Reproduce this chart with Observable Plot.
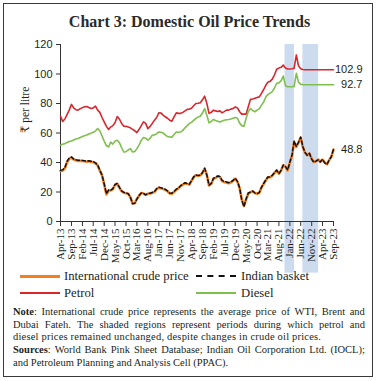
<!DOCTYPE html>
<html>
<head>
<meta charset="utf-8">
<script src="https://cdn.jsdelivr.net/npm/d3@7"></script>
<script src="https://cdn.jsdelivr.net/npm/@observablehq/plot@0.6"></script>
<style>
  html, body { margin: 0; padding: 0; background: #fff; }
  body { width: 379px; height: 381px; position: relative; overflow: hidden; font-family: "Liberation Serif", "DejaVu Serif", serif; color: #231f20; }
  #frame { position: absolute; left: 3px; top: 3px; width: 370px; height: 374px; box-sizing: border-box; border: 1px solid #3a3a3a; }
  #title { position: absolute; left: 0; top: 12px; width: 379px; text-align: center; font-family: "Liberation Serif", serif; font-size: 16px; line-height: 20px; font-weight: bold; color: #2a2a2a; }
  #chart { position: absolute; left: 0; top: 30px; }
  #note { position: absolute; left: 13px; top: 306px; width: 352px; font-family: "Liberation Serif", serif; font-size: 10.5px; line-height: 12.7px; }
  #note > div { white-space: nowrap; height: 12.7px; }
  #note > div.j { display: flex; justify-content: space-between; }
  #note > div.n0 { letter-spacing: 0.2px; }
</style>
</head>
<body>
<div id="frame"></div>
<div id="title">Chart 3: Domestic Oil Price Trends</div>
<div id="chart"></div>
<div id="legend"></div>
<div id="note"></div>
<script>
// Months: Apr-13 .. Sep-23 (126 months)
const firstMonth = "2013-04-01";
const lastMonth = "2023-09-01";

// International crude price (₹ per litre)
const crude = [
  34.2, 34.5, 36.0, 40.0, 42.5, 43.3, 42.0, 41.5, 41.0, 41.2, 41.0, 40.8,
  40.5, 40.8, 40.3, 40.3, 39.5, 38.0, 34.5, 31.3, 25.0, 18.4, 21.1, 21.0,
  22.0, 24.8, 25.6, 23.0, 20.5, 19.5, 19.2, 18.8, 16.5, 12.2, 12.5, 15.4,
  17.5, 19.3, 19.0, 18.0, 18.8, 19.0, 19.5, 20.0, 22.0, 22.9, 22.5, 22.0,
  21.5, 20.5, 19.0, 18.8, 20.0, 21.6, 22.5, 24.0, 25.0, 26.0, 25.5, 25.0,
  27.5, 30.0, 31.3, 31.0, 31.3, 33.0, 35.9, 31.5, 24.5, 25.5, 29.0, 29.5,
  30.6, 30.2, 27.5, 26.7, 26.5, 26.0, 26.5, 27.5, 29.0, 27.0, 22.5, 15.0,
  10.5, 15.0, 19.0, 19.8, 20.5, 19.3, 18.8, 19.5, 23.0, 25.6, 28.0, 30.0,
  30.1, 31.2, 33.0, 34.7, 32.4, 34.5, 38.1, 37.0, 34.7, 40.0, 44.9, 54.0,
  50.5, 53.5, 56.9, 50.5, 46.5, 44.9, 46.0, 42.5, 40.3, 41.0, 42.0, 40.5,
  42.0, 40.0, 38.8, 41.5, 43.7, 48.8
];

// Indian basket (₹ per litre)
const basket = [
  34.8, 35.0, 36.6, 40.8, 43.0, 43.8, 42.4, 41.8, 41.5, 41.6, 41.4, 41.2,
  40.9, 41.2, 40.8, 40.6, 39.8, 38.3, 34.8, 31.5, 25.6, 18.8, 21.4, 21.2,
  22.3, 25.1, 25.8, 23.2, 20.7, 19.7, 19.3, 18.9, 16.4, 12.0, 12.4, 15.2,
  17.6, 19.4, 19.2, 18.1, 18.9, 19.2, 19.7, 20.2, 22.3, 23.2, 22.8, 22.3,
  21.8, 20.7, 19.3, 19.2, 20.4, 21.9, 22.7, 24.3, 25.3, 26.3, 25.6, 25.2,
  27.7, 30.3, 31.5, 31.2, 31.4, 33.2, 36.1, 31.6, 24.6, 25.8, 29.3, 29.8,
  30.9, 30.6, 27.9, 27.1, 26.8, 26.3, 26.8, 27.8, 29.4, 27.3, 22.8, 14.6,
  10.1, 15.3, 19.3, 19.9, 20.6, 19.3, 18.9, 19.6, 23.2, 25.8, 28.3, 30.2,
  30.2, 31.3, 33.2, 34.8, 32.5, 34.7, 38.3, 37.2, 34.9, 40.3, 45.3, 54.6,
  50.9, 53.7, 57.2, 50.6, 46.8, 44.9, 46.2, 42.3, 40.1, 40.9, 41.8, 40.3,
  42.2, 39.8, 38.6, 41.6, 43.9, 49.0
];

// Petrol (₹ per litre)
const petrol = [
  71.5, 67.8, 69.5, 72.5, 75.5, 79.4, 77.0, 75.8, 75.5, 76.5, 77.2, 77.8,
  78.0, 77.3, 76.6, 77.0, 78.2, 75.5, 74.0, 70.5, 67.5, 64.5, 62.4, 64.0,
  65.0, 67.0, 71.2, 69.5, 66.5, 64.6, 64.5, 64.0, 63.5, 62.5, 61.5, 60.3,
  62.5, 65.0, 67.5, 66.5, 63.0, 64.5, 66.5, 68.7, 70.5, 73.7, 73.5, 72.1,
  71.0, 70.0, 68.7, 68.0, 71.0, 73.7, 73.3, 73.3, 74.0, 75.0, 76.0, 76.2,
  76.8, 78.5, 80.0, 80.2, 80.5, 82.5, 85.0, 80.0, 73.3, 74.0, 75.5, 75.0,
  74.5, 75.0, 73.7, 74.5, 75.5, 75.5, 76.2, 76.6, 77.7, 77.0, 74.4, 72.8,
  72.8, 72.8, 78.0, 82.8, 83.0, 83.5, 84.1, 84.5, 86.9, 89.5, 92.5, 94.5,
  95.0, 96.5, 99.5, 103.2, 104.0, 104.5, 106.1, 104.0, 103.4, 103.4, 103.6, 103.9,
  112.9, 105.5, 103.5, 103.0, 102.9, 102.9, 102.9, 102.9, 102.9, 102.9, 102.9, 102.9,
  102.9, 102.9, 102.9, 102.9, 102.9, 102.9
];

// Diesel (₹ per litre)
const diesel = [
  51.7, 52.4, 52.8, 53.5, 54.2, 54.6, 55.3, 55.9, 56.3, 57.0, 57.6, 58.1,
  58.6, 59.3, 59.9, 60.5, 61.3, 63.0, 61.5, 58.0, 54.5, 51.5, 50.5, 53.8,
  52.5, 54.5, 55.1, 53.5, 50.0, 47.1, 47.3, 48.5, 49.4, 47.1, 47.5, 49.4,
  52.0, 55.0, 56.9, 56.5, 55.1, 56.5, 58.5, 58.7, 59.5, 60.7, 60.5, 60.0,
  58.8, 57.6, 57.3, 57.2, 59.0, 60.7, 60.5, 60.7, 61.8, 63.5, 65.0, 66.5,
  67.2, 68.5, 69.9, 70.8, 71.4, 73.5, 76.6, 72.0, 66.9, 67.8, 69.2, 68.5,
  68.0, 67.5, 68.2, 68.7, 69.0, 69.2, 69.5, 70.0, 70.5, 70.0, 66.7, 65.0,
  64.6, 70.0, 74.5, 76.6, 75.2, 74.4, 75.5, 76.5, 78.9, 81.0, 84.6, 86.0,
  87.0, 88.0, 90.5, 93.7, 94.0, 95.5, 98.6, 92.0, 91.4, 91.4, 91.4, 91.6,
  100.5, 94.5, 93.0, 92.8, 92.7, 92.7, 92.7, 92.7, 92.7, 92.7, 92.7, 92.7,
  92.7, 92.7, 92.7, 92.7, 92.7, 92.7
];

// Periods of unchanged retail prices (shaded)
const shadeStart = ["2021-10-25", "2022-07-01"];
const shadeEnd = ["2022-03-06", "2023-02-06"];

// Axis tick labels
const xTickLabels = ["Apr-13","Sep-13","Feb-14","Jul-14","Dec-14","May-15","Oct-15","Mar-16","Aug-16","Jan-17","Jun-17","Nov-17","Apr-18","Sep-18","Feb-19","Jul-19","Dec-19","May-20","Oct-20","Mar-21","Aug-21","Jan-22","Jun-22","Nov-22","Apr-23","Sep-23"];
const yTicks = [0, 20, 40, 60, 80, 100, 120];

// Legend
const seriesNames = ["International crude price", "Indian basket", "Petrol", "Diesel"];
const seriesColors = ["#f47f20", "#111111", "#d9262c", "#7fbf4d"];

// Note lines (justified flag)
const noteLines = [
  {bold: "Note", text: ": International crude price represents the average price of WTI, Brent and", j: true},
  {bold: "", text: "Dubai Fateh. The shaded regions represent periods during which petrol and", j: true},
  {bold: "", text: "diesel prices remained unchanged, despite changes in crude oil prices.", j: false, cls: "n0"},
  {bold: "Sources", text: ": World Bank Pink Sheet Database; Indian Oil Corporation Ltd. (IOCL);", j: true},
  {bold: "", text: "and Petroleum Planning and Analysis Cell (PPAC).", j: false, cls: ""}
];

const parse = d3.utcParse("%Y-%m-%d");
const t0 = parse(firstMonth), t1 = parse(lastMonth);
const dates = d3.utcMonth.range(t0, d3.utcMonth.offset(t1, 1));
const rows = dates.map((d, i) => ({date: d, crude: crude[i], basket: basket[i], petrol: petrol[i], diesel: diesel[i]}));
const shades = shadeStart.map((s, i) => ({start: parse(s), end: parse(shadeEnd[i])}));
const tickDates = xTickLabels.map(d3.utcParse("%b-%y"));
const endLabels = [
  {date: t1, v: petrol[petrol.length - 1]},
  {date: t1, v: diesel[diesel.length - 1]},
  {date: t1, v: crude[crude.length - 1]}
];

const sans = "'Liberation Sans', Arial, sans-serif";
const serif = "'Liberation Serif', 'DejaVu Serif', serif";

const chart = Plot.plot({
  width: 379,
  height: 245,
  marginLeft: 60,
  marginRight: 46,
  marginTop: 14,
  marginBottom: 54,
  x: {type: "utc", domain: [t0, t1]},
  y: {domain: [0, 120]},
  style: {background: "transparent", overflow: "visible", color: "#231f20"},
  marks: [
    Plot.rect(shades, {x1: "start", x2: "end", y1: -35, y2: 120, fill: "#cddbee"}),
    Plot.axisY({ticks: yTicks, tickSize: 4, tickPadding: 4, label: null, fontFamily: sans, fontSize: 11, stroke: "#333"}),
    Plot.axisX({ticks: tickDates, tickFormat: d3.utcFormat("%b-%y"), tickRotate: -90, tickSize: 5, tickPadding: 2, label: null, fontFamily: serif, fontSize: 11, stroke: "#333"}),
    Plot.ruleY([0], {stroke: "#333"}),
    Plot.ruleX([t0], {y1: 0, y2: 120, stroke: "#333"}),
    Plot.text(["₹ per litre"], {frameAnchor: "left", rotate: -90, dx: -35, fontFamily: serif, fontSize: 11.5, fill: "#231f20"}),
    Plot.lineY(rows, {x: "date", y: "petrol", stroke: seriesColors[2], strokeWidth: 1.6}),
    Plot.lineY(rows, {x: "date", y: "diesel", stroke: seriesColors[3], strokeWidth: 1.6}),
    Plot.lineY(rows, {x: "date", y: "crude", stroke: seriesColors[0], strokeWidth: 2.6}),
    Plot.lineY(rows, {x: "date", y: "basket", stroke: seriesColors[1], strokeWidth: 1.5, strokeDasharray: "3.5,2.5"}),
    Plot.text(endLabels, {x: "date", y: "v", text: d => d.v.toFixed(1), dx: 29, textAnchor: "end", fontFamily: sans, fontSize: 11, fill: "#231f20"})
  ]
});
document.getElementById("chart").appendChild(chart);

// Legend (two rows, two columns)
const legend = document.getElementById("legend");
const legendPos = [
  {sx: 20, tx: 64, y: 276},
  {sx: 196, tx: 241, y: 276},
  {sx: 20, tx: 64, y: 292.5},
  {sx: 196, tx: 241, y: 292.5}
];
seriesNames.forEach((name, i) => {
  const p = legendPos[i];
  const sw = document.createElement("div");
  sw.style.cssText = "position:absolute;height:0;width:40px;left:" + p.sx + "px;";
  const th = i === 0 ? 3 : (i === 1 ? 2.5 : 2);
  sw.style.top = (p.y - th / 2) + "px";
  sw.style.borderTop = th + "px " + (i === 1 ? "dashed" : "solid") + " " + seriesColors[i];
  legend.appendChild(sw);
  const tx = document.createElement("span");
  tx.style.cssText = "position:absolute;white-space:nowrap;font-family:'Liberation Serif',serif;font-size:12.7px;line-height:16px;color:#231f20;left:" + p.tx + "px;top:" + (p.y - 8) + "px;";
  tx.textContent = name;
  legend.appendChild(tx);
});

// Note (justified lines built from words)
const note = document.getElementById("note");
noteLines.forEach(line => {
  const div = document.createElement("div");
  if (line.j) {
    div.className = "j";
    const words = line.text.split(" ");
    words.forEach((w, k) => {
      const s = document.createElement("span");
      if (k === 0 && line.bold) {
        const b = document.createElement("b");
        b.textContent = line.bold;
        s.appendChild(b);
      }
      s.appendChild(document.createTextNode(w));
      div.appendChild(s);
    });
  } else {
    div.className = line.cls;
    div.textContent = line.text;
  }
  note.appendChild(div);
});
</script>
</body>
</html>
